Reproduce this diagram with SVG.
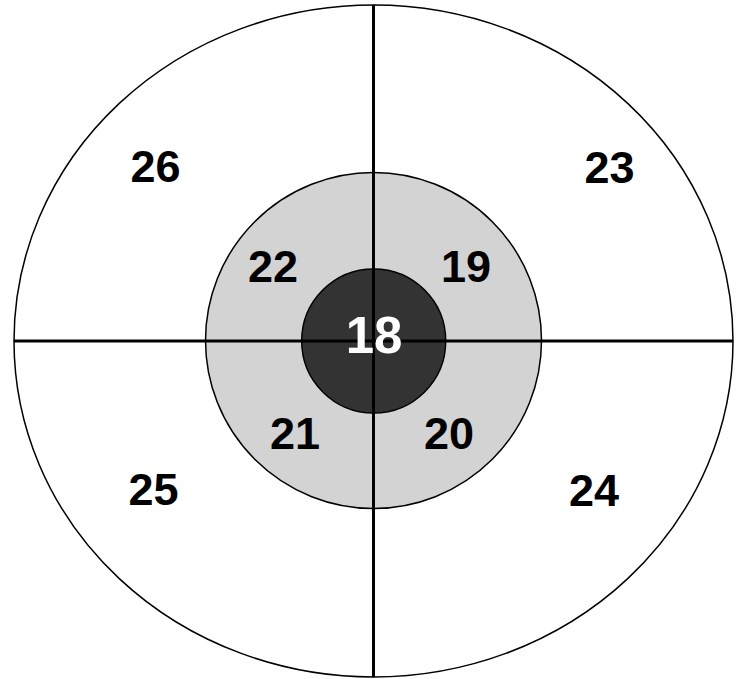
<svg xmlns="http://www.w3.org/2000/svg" width="736" height="679" viewBox="0 0 736 679">
<style>
.ring{stroke:#000;stroke-width:1.5}
.lbl{font-family:"Liberation Sans",Arial,sans-serif;font-weight:bold;font-size:45px;fill:#000;text-anchor:middle}
.axis{stroke:#000;stroke-width:3;fill:none}
</style>
<rect width="736" height="679" fill="#fff"/>
<g id="outer"><ellipse class="ring" cx="373.5" cy="341" rx="359.5" ry="336" fill="#fff"/></g>
<g id="middle"><circle class="ring" cx="373.5" cy="340.5" r="168" fill="#d3d3d3"/></g>
<g id="inner"><circle class="ring" cx="373.7" cy="341" r="72" fill="#333"/></g>
<g id="connectors">
<line class="axis" x1="373.5" y1="5" x2="373.5" y2="677"/>
<line class="axis" x1="14" y1="341" x2="733" y2="341"/>
</g>
<g id="n18"><text class="lbl" x="374" y="353" font-size="51" style="font-size:51px;fill:#fff">18</text></g>
<g id="n19"><text class="lbl" x="466" y="282">19</text></g>
<g id="n20"><text class="lbl" x="449" y="449">20</text></g>
<g id="n21"><text class="lbl" x="295" y="449">21</text></g>
<g id="n22"><text class="lbl" x="273" y="282">22</text></g>
<g id="n23"><text class="lbl" x="609.5" y="183">23</text></g>
<g id="n24"><text class="lbl" x="594" y="506">24</text></g>
<g id="n25"><text class="lbl" x="153.5" y="505">25</text></g>
<g id="n26"><text class="lbl" x="155.5" y="182">26</text></g>
</svg>
